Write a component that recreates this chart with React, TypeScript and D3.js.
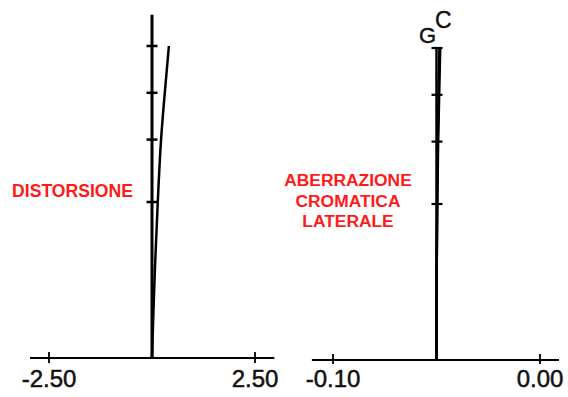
import React from 'react';
import * as d3 from 'd3';

// Relative image height (0 = centre, 1 = corner of the field)
const fieldHeights = [0, 0.15, 0.3, 0.5, 0.7, 0.85, 1.0];
// Distortion, percent
const distortion = [0, 0.035, 0.075, 0.14, 0.22, 0.31, 0.41];
// Lateral chromatic aberration, mm, for the g and C lines
const lateralG = [-0.05, -0.05, -0.0499, -0.0497, -0.0494, -0.049, -0.0486];
const lateralC = [-0.05, -0.05, -0.0499, -0.0496, -0.0492, -0.0487, -0.0482];

const fieldTicks = [0.5, 0.7, 0.85, 1.0];
const distTicks = [-2.5, 2.5];
const distTickLabels = ['-2.50', '2.50'];
const lcaTicks = [-0.1, 0.0];
const lcaTickLabels = ['-0.10', '0.00'];
const distTitle = ['DISTORSIONE'];
const lcaTitle = ['ABERRAZIONE', 'CROMATICA', 'LATERALE'];
const seriesNames = ['G', 'C'];

const W = 568;
const H = 397;
const FONT = "'Liberation Sans', Arial, Helvetica, sans-serif";
const RED = '#ff1a1a';

export default function App() {
  // Distortion panel
  const xD = d3.scaleLinear().domain([-2.5, 2.5]).range([49, 255]);
  const yD = d3.scaleLinear().domain([0, 1]).range([358, 46]);
  // Lateral colour panel
  const xL = d3.scaleLinear().domain([-0.1, 0.0]).range([333, 540]);
  const yL = d3.scaleLinear().domain([0, 1]).range([360, 48]);

  const distLine = d3
    .line<number>()
    .x((d) => xD(d))
    .y((_, i) => yD(fieldHeights[i]))
    .curve(d3.curveMonotoneY);

  const lcaLine = d3
    .line<number>()
    .x((d) => xL(d))
    .y((_, i) => yL(fieldHeights[i]))
    .curve(d3.curveMonotoneY);

  const xd0 = xD(0);
  const xlMid = xL(-0.05);

  return (
    <svg
      width={W}
      height={H}
      viewBox={`0 0 ${W} ${H}`}
      style={{ position: 'absolute', left: 0, top: 0, background: '#fff' }}
      fontFamily={FONT}
    >
      {/* ---------- distortion panel ---------- */}
      <line x1={xD(-2.96)} x2={xD(2.97)} y1={yD(0)} y2={yD(0)} stroke="#000" strokeWidth={2} />
      {distTicks.map((t, i) => (
        <g key={`dt${i}`}>
          <line x1={xD(t)} x2={xD(t)} y1={yD(0) - 6} y2={yD(0) + 5} stroke="#000" strokeWidth={1.8} />
          <text
            x={xD(t)}
            y={387}
            textAnchor="middle"
            fontSize={24}
            fill="#111"
            stroke="#111"
            strokeWidth={0.5}
          >
            {distTickLabels[i]}
          </text>
        </g>
      ))}
      <line x1={xd0} x2={xd0} y1={yD(0)} y2={yD(1.1)} stroke="#000" strokeWidth={3} />
      {fieldTicks.map((t) => (
        <line
          key={`df${t}`}
          x1={xd0 - 5.5}
          x2={xd0 + 5.5}
          y1={yD(t)}
          y2={yD(t)}
          stroke="#000"
          strokeWidth={2.5}
        />
      ))}
      <path d={distLine(distortion) || ''} fill="none" stroke="#000" strokeWidth={2.5} />
      <text
        x={72.5}
        y={197}
        textAnchor="middle"
        fontSize={17.6}
        fontWeight="bold"
        fill={RED}
      >
        {distTitle[0]}
      </text>

      {/* ---------- lateral colour panel ---------- */}
      <line x1={xL(-0.1102)} x2={xL(0.0092)} y1={yL(0)} y2={yL(0)} stroke="#000" strokeWidth={2} />
      {lcaTicks.map((t, i) => (
        <g key={`lt${i}`}>
          <line x1={xL(t)} x2={xL(t)} y1={yL(0) - 6} y2={yL(0) + 4} stroke="#000" strokeWidth={1.8} />
          <text
            x={xL(t)}
            y={387}
            textAnchor="middle"
            fontSize={24}
            fill="#111"
            stroke="#111"
            strokeWidth={0.5}
          >
            {lcaTickLabels[i]}
          </text>
        </g>
      ))}
      <line x1={xlMid} x2={xlMid} y1={yL(0)} y2={yL(1)} stroke="#000" strokeWidth={2.5} />
      {fieldTicks.map((t) => (
        <line
          key={`lf${t}`}
          x1={xlMid - 5}
          x2={xlMid + 6}
          y1={yL(t)}
          y2={yL(t)}
          stroke="#000"
          strokeWidth={2.2}
        />
      ))}
      <path d={lcaLine(lateralG) || ''} fill="none" stroke="#000" strokeWidth={2.5} />
      <path d={lcaLine(lateralC) || ''} fill="none" stroke="#000" strokeWidth={2.5} />
      <text x={419} y={43} fontSize={22} fill="#111" stroke="#111" strokeWidth={0.4}>
        {seriesNames[0]}
      </text>
      <text x={435} y={28} fontSize={23} fill="#111" stroke="#111" strokeWidth={0.4}>
        {seriesNames[1]}
      </text>
      {lcaTitle.map((s, i) => (
        <text
          key={s}
          x={348}
          y={186 + i * 20.5}
          textAnchor="middle"
          fontSize={17.4}
          fontWeight="bold"
          fill={RED}
        >
          {s}
        </text>
      ))}
    </svg>
  );
}
